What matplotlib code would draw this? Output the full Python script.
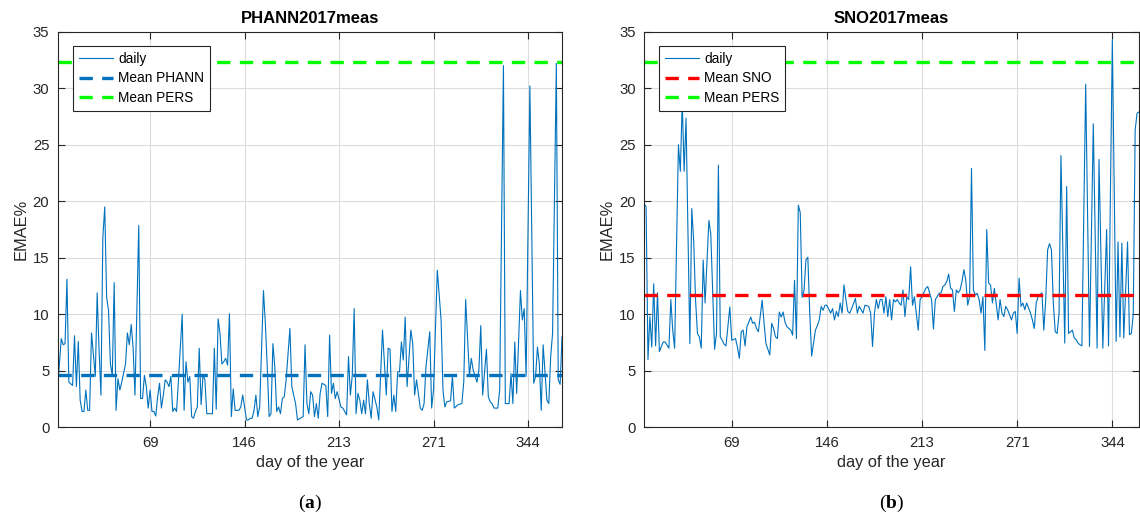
import matplotlib
matplotlib.use("Agg")
import matplotlib.pyplot as plt

plt.rcParams['font.family'] = ['Liberation Sans', 'DejaVu Sans']
plt.rcParams['mathtext.fontset'] = 'custom'
plt.rcParams['mathtext.rm'] = 'Liberation Serif'
plt.rcParams['mathtext.bf'] = 'Liberation Serif:bold'

# day index (position in the series) and daily EMAE%
phann_idx = [1, 3, 4, 5, 6, 7, 9, 10, 11, 12, 13, 14, 15, 16, 17, 18, 19, 21, 22, 23,
             24, 25, 26, 27, 28, 29, 30, 31, 32, 33, 34, 35, 37, 38, 39, 40, 41, 42, 44, 45,
             46, 47, 48, 49, 50, 51, 52, 53, 54, 55, 56, 57, 58, 59, 60, 61, 62, 63, 64, 65,
             67, 68, 69, 70, 71, 72, 73, 74, 75, 76, 77, 78, 79, 80, 83, 84, 85, 86, 87, 88,
             89, 90, 91, 92, 93, 94, 95, 97, 98, 99, 100, 101, 102, 103, 104, 105, 106, 107, 108, 110,
             111, 112, 113, 114, 115, 116, 117, 118, 119, 120, 121, 122, 124, 125, 127, 128, 131, 132, 133, 134,
             135, 136, 137, 138, 139, 140, 141, 143, 144, 145, 146, 147, 148, 149, 151, 152, 154, 155, 156, 157,
             158, 159, 160, 161, 162, 163, 164, 165, 166, 167, 168, 170, 171, 173, 175, 176, 177, 178, 179, 180,
             181, 182, 183, 184, 185, 186, 188, 189, 190, 191, 193, 194, 195, 196, 198, 199, 200, 202, 204, 205,
             206, 207, 209, 210, 211, 213, 215, 216, 217, 219, 220, 221, 223, 224, 225, 226, 228, 229, 230, 231,
             232, 234, 235, 237, 238, 240, 241, 242, 243, 244, 246, 247, 248, 249, 251, 253, 254, 255, 256, 257,
             258, 260, 261, 262, 263, 265, 266, 267, 268]
phann_daily = [3.3, 7.85, 7.3, 7.4, 13.1, 4.0, 3.7, 8.1, 3.6, 7.6, 2.4, 1.4, 1.4, 3.3, 1.5, 1.5, 8.35, 4.5, 11.9, 6.8,
               2.85, 16.8, 19.5, 11.5, 10.35, 5.6, 4.6, 12.8, 1.5, 4.3, 3.3, 4.0, 5.6, 8.35, 7.3, 9.1, 7.1, 2.85, 17.85, 2.55,
               2.55, 4.6, 3.6, 1.7, 3.3, 1.4, 1.4, 1.0, 2.7, 3.9, 1.7, 2.85, 4.2, 4.0, 3.6, 4.5, 1.4, 1.7, 1.4, 4.1,
               10.0, 1.5, 5.8, 4.0, 4.5, 0.95, 0.8, 1.4, 1.8, 7.0, 2.0, 4.6, 4.2, 1.2, 1.2, 7.0, 1.6, 9.6, 8.3, 5.6,
               5.8, 6.1, 5.5, 10.05, 0.95, 3.4, 1.5, 1.5, 1.8, 2.85, 1.8, 0.65, 0.65, 0.8, 0.8, 1.5, 2.85, 0.95, 1.8, 12.1,
               9.2, 5.35, 0.95, 1.2, 7.4, 5.35, 1.4, 1.8, 1.2, 2.55, 2.7, 4.2, 8.75, 3.6, 2.1, 0.65, 0.95, 7.3, 2.1, 1.2,
               3.15, 2.85, 0.95, 2.1, 0.8, 3.0, 3.9, 3.7, 0.95, 8.15, 3.0, 3.9, 2.55, 3.15, 1.8, 1.7, 1.1, 6.25, 2.85, 4.6,
               10.5, 1.2, 3.0, 2.4, 1.2, 2.4, 1.2, 4.2, 2.1, 0.8, 3.15, 1.8, 0.65, 8.6, 2.85, 7.0, 6.9, 1.4, 2.85, 1.4,
               4.9, 4.9, 7.55, 5.95, 9.75, 3.6, 8.6, 7.4, 2.85, 4.2, 1.7, 1.5, 2.1, 5.35, 8.45, 1.7, 3.3, 13.9, 9.5, 3.3,
               1.8, 2.25, 2.35, 4.5, 1.7, 2.0, 2.1, 4.0, 11.3, 4.6, 6.1, 5.05, 4.0, 5.05, 9.0, 2.85, 6.9, 2.7, 2.25, 2.1,
               1.7, 1.7, 3.3, 32.0, 2.1, 2.1, 4.75, 2.1, 7.55, 3.0, 12.1, 9.5, 10.5, 4.5, 30.2, 3.9, 4.5, 7.1, 5.6, 1.5,
               7.3, 2.4, 2.1, 6.25, 8.3, 32.2, 4.2, 3.8, 8.0]

sno_idx = [4, 5, 6, 7, 8, 9, 10, 11, 12, 14, 15, 17, 18, 19, 20, 22, 23, 24, 25, 26,
           28, 29, 30, 31, 32, 33, 34, 35, 36, 38, 39, 41, 42, 43, 44, 45, 46, 47, 49, 50,
           52, 53, 54, 55, 56, 57, 58, 60, 61, 62, 63, 64, 66, 67, 68, 70, 71, 72, 73, 74,
           75, 76, 77, 78, 79, 80, 81, 82, 83, 84, 85, 86, 87, 88, 89, 90, 91, 92, 94, 95,
           96, 97, 98, 99, 100, 102, 103, 104, 105, 106, 107, 108, 109, 110, 111, 112, 113, 115, 116, 117,
           119, 120, 122, 123, 124, 125, 126, 127, 128, 129, 130, 131, 132, 133, 134, 135, 136, 137, 138, 139,
           140, 141, 142, 143, 144, 145, 146, 147, 148, 149, 150, 152, 153, 155, 156, 157, 159, 160, 161, 162,
           163, 164, 165, 166, 167, 168, 169, 170, 171, 172, 173, 174, 175, 176, 177, 178, 179, 180, 181, 182,
           183, 184, 185, 186, 187, 188, 190, 191, 192, 193, 194, 195, 197, 198, 199, 200, 201, 202, 203, 204,
           205, 207, 208, 209, 210, 211, 213, 214, 215, 216, 217, 218, 219, 220, 221, 222, 223, 225, 226, 227,
           229, 230, 231, 232, 233, 234, 236, 238, 240, 242, 243, 245, 247, 248, 250, 252, 253, 254, 255, 256,
           258, 259, 260, 261, 262, 263, 264]
sno_daily = [19.8, 19.5, 6.0, 9.8, 7.1, 12.7, 7.2, 11.9, 6.7, 7.55, 7.55, 7.0, 11.3, 8.6, 7.0, 25.0, 22.65, 28.8, 22.65, 27.35,
             7.4, 19.35, 16.55, 11.25, 8.3, 8.0, 7.0, 14.8, 11.0, 18.3, 17.1, 6.9, 8.3, 23.2, 8.0, 7.7, 7.35, 7.2, 10.65, 7.7,
             7.85, 7.1, 6.1, 8.45, 8.6, 7.2, 8.9, 9.75, 9.2, 9.3, 8.75, 8.45, 11.25, 9.2, 7.4, 6.4, 9.2, 8.75, 8.0, 7.85,
             10.2, 9.75, 10.2, 9.3, 8.9, 8.75, 8.6, 8.15, 13.0, 7.85, 19.65, 19.0, 11.5, 12.1, 14.8, 15.05, 10.1, 6.3, 8.6, 9.0,
             9.5, 10.7, 10.35, 10.8, 10.8, 10.1, 10.5, 9.5, 10.25, 9.8, 11.0, 10.1, 12.6, 11.3, 10.25, 10.1, 10.5, 11.4, 10.1, 10.7,
             10.1, 10.8, 10.7, 10.1, 7.15, 10.1, 11.3, 10.5, 11.3, 11.3, 10.1, 11.55, 9.8, 11.3, 9.5, 11.3, 11.1, 11.3, 11.0, 10.8,
             12.15, 9.8, 11.55, 11.3, 14.2, 10.8, 11.55, 10.1, 8.6, 11.3, 11.55, 12.3, 12.45, 11.3, 8.7, 11.3, 11.85, 11.9, 12.45, 12.6,
             12.9, 13.55, 12.3, 12.15, 10.25, 12.15, 11.9, 12.15, 12.9, 13.95, 13.0, 10.8, 11.55, 22.9, 12.15, 11.7, 11.85, 11.3, 10.1, 11.55,
             6.8, 17.5, 12.75, 12.6, 11.0, 12.3, 9.5, 11.3, 10.1, 9.8, 10.7, 10.4, 9.5, 10.1, 10.25, 8.3, 13.2, 10.7, 11.0, 10.4,
             11.0, 10.1, 9.5, 8.75, 11.0, 11.55, 11.9, 8.6, 11.3, 15.7, 16.25, 15.7, 11.0, 8.45, 8.3, 10.1, 24.05, 7.45, 21.3, 8.3,
             8.6, 7.9, 7.75, 7.45, 7.3, 7.2, 30.35, 7.15, 26.85, 7.0, 23.7, 7.0, 17.5, 7.2, 34.3, 7.6, 16.4, 8.0, 16.3, 7.9,
             16.4, 8.2, 8.3, 10.0, 26.3, 27.8, 27.9]

mean_phann = 4.6
mean_sno = 11.7
mean_pers = 32.3

tick_pos = [50, 100, 150, 200, 250]
tick_days = ['69', '146', '213', '271', '344']

blue = (0, 0.447, 0.741)
txt = '#262626'

fig = plt.figure(figsize=(11.4, 5.18), dpi=100)
ax1 = fig.add_axes([0.0506, 0.1751, 0.4424, 0.7637])
ax2 = fig.add_axes([0.5649, 0.1751, 0.4342, 0.7637])

panels = [
    (ax1, phann_idx, phann_daily, mean_phann, blue, 'Mean PHANN', 'PHANN2017meas', (1.1, 268), 'a'),
    (ax2, sno_idx, sno_daily, mean_sno, (1, 0, 0), 'Mean SNO', 'SNO2017meas', (3.9, 264), 'b'),
]

for ax, xs, ys, mval, mcol, mlab, title, xl, letter in panels:
    ax.plot(xs, ys, color=blue, lw=0.8, label='daily')
    ax.plot(xl, [mval, mval], color=mcol, lw=2.4, dashes=(4, 2.8), label=mlab)
    ax.plot(xl, [mean_pers, mean_pers], color=(0, 1, 0), lw=2.4, dashes=(4, 2.8), label='Mean PERS')
    ax.set_xlim(xl)
    ax.set_ylim(0, 35)
    ax.set_yticks(range(0, 36, 5))
    ax.set_xticks(tick_pos)
    ax.set_xticklabels(tick_days)
    ax.grid(True, color='#dcdcdc', lw=0.8)
    ax.set_axisbelow(True)
    ax.tick_params(direction='in', length=5, width=0.8, top=True, right=True,
                   labelsize=10.7, colors=txt, pad=6)
    for s in ax.spines.values():
        s.set_color(txt)
        s.set_linewidth(0.8)
    ax.set_title(title, fontsize=12, fontweight='bold', color='black', pad=6)
    ax.set_xlabel('day of the year', fontsize=11.8, color=txt, labelpad=4)
    ax.set_ylabel('EMAE%', fontsize=11.8, color=txt, labelpad=3)
    leg = ax.legend(loc='upper left', bbox_to_anchor=(0.031, 0.963), borderaxespad=0,
                    fancybox=False, framealpha=1, edgecolor=txt, fontsize=9.8,
                    handlelength=2.5, labelspacing=0.42, borderpad=0.4, handletextpad=0.4)
    leg.get_frame().set_linewidth(0.8)
    box = ax.get_position()
    fig.text(box.x0 + box.width / 2, 0.02, r'($\mathbf{' + letter + '}$)',
             fontsize=14, ha='center', va='baseline', family='Liberation Serif')

fig.savefig('out.png', dpi=100)
